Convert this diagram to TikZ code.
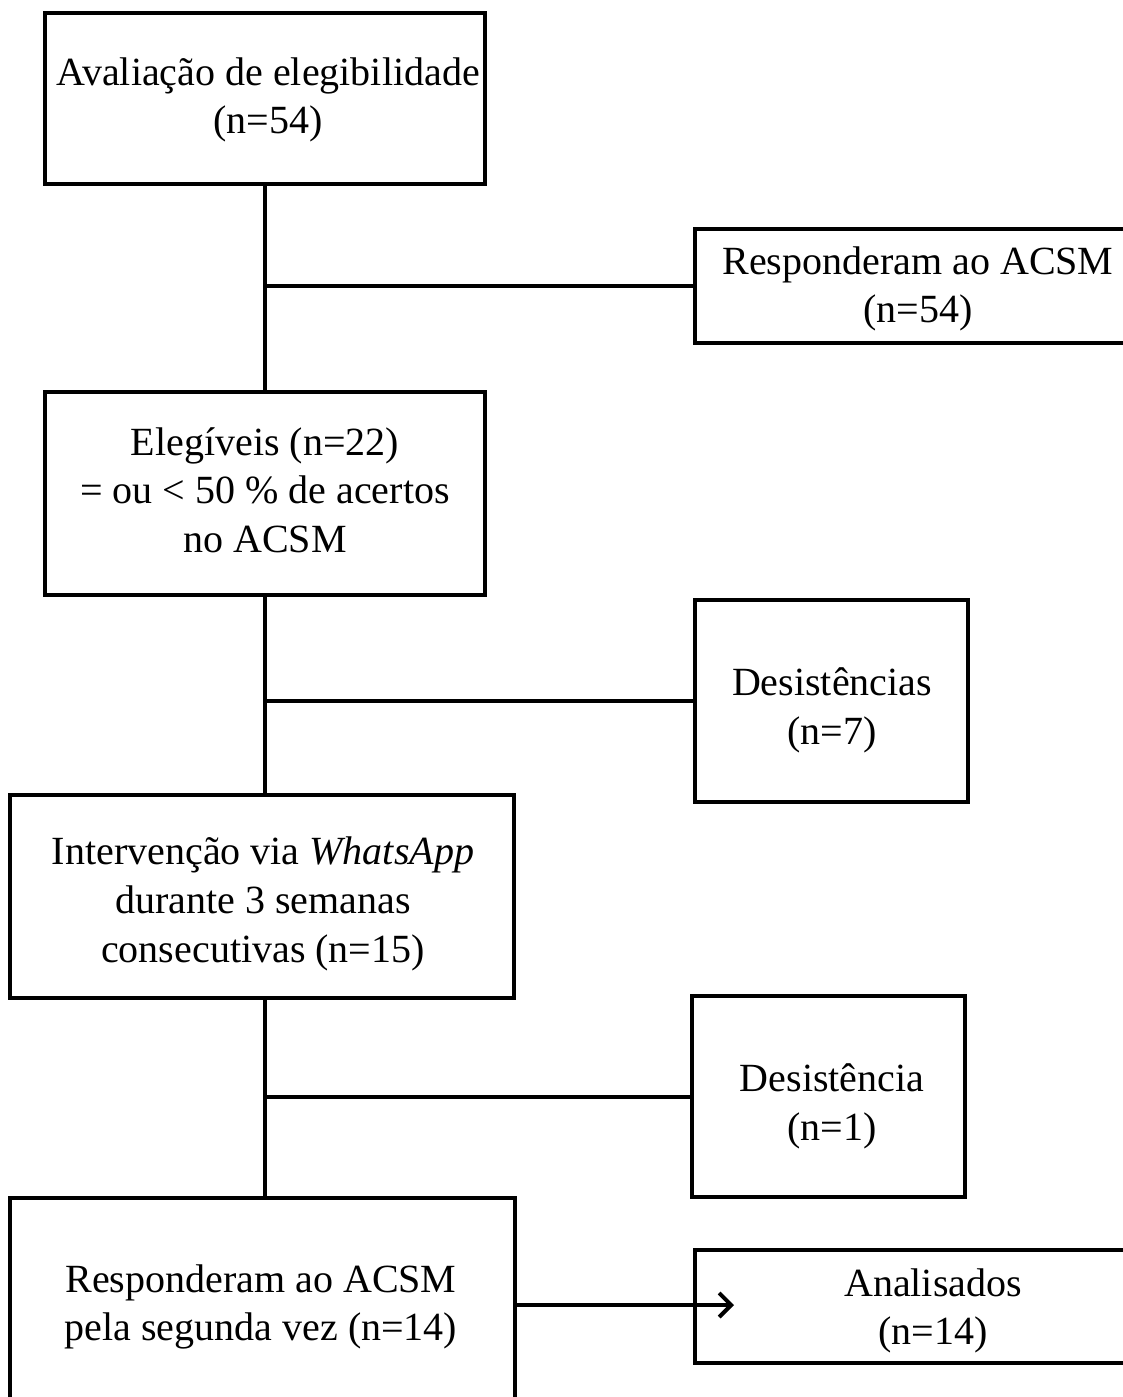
\documentclass[tikz,border=0pt]{standalone}
\usepackage{fontspec}
\setmainfont{Liberation Serif}
\usetikzlibrary{arrows.meta}

\begin{document}
\begin{tikzpicture}[x=0.75pt, y=-0.75pt,
  box/.style={rectangle, draw=black, line width=3pt, inner sep=0pt},
  txt/.style={align=center, font=\fontsize{30}{36.5}\selectfont, inner sep=0pt},
  link/.style={draw=black, line width=3pt},
  arr/.style={link, -{Straight Barb[length=9pt, width=18pt]}}
]
  \useasboundingbox (0,0) rectangle (1122,1397);
  \fill[white] (0,0) rectangle (1122,1397);

  % caixas do fluxograma
  \foreach \n/\x/\y/\w/\h in {aval/265/98.5/440/171, resp1/917.5/286/445/114,
    elig/265/493.5/440/203, desA/831.5/701/273/202,
    interv/262/896.5/504/203, desB/828.5/1096.5/273/201,
    resp2/262.5/1305/505/214, anal/917.5/1306.5/445/113}
    \node[box, minimum width=\w*0.75pt, minimum height=\h*0.75pt] (\n) at (\x,\y) {};

  % textos
  \node[txt] (aval-t) at (268,100) {Avaliação de elegibilidade\\(n=54)};
  \node[txt] (resp1-t) at (918,289) {Responderam ao ACSM\\(n=54)};
  \node[txt] (elig-t) at (265,490) {Elegíveis (n=22)\\= ou < 50 \% de acertos\\no ACSM};
  \node[txt] (desA-t) at (832,710) {Desistências\\(n=7)};
  \node[txt] (interv-t) at (263,904) {Intervenção via \textit{WhatsApp}\\durante 3 semanas\\consecutivas (n=15)};
  \node[txt] (desB-t) at (832,1106) {Desistência\\(n=1)};
  \node[txt] (resp2-t) at (261,1307) {Responderam ao ACSM\\pela segunda vez (n=14)};
  \node[txt] (anal-t) at (933,1311) {Analisados\\(n=14)};

  % ligações
  \draw[link] (aval.south) -- (elig.north);
  \draw[link] (aval.south |- resp1.west) -- (resp1.west);
  \draw[link] (elig.south) -- (elig.south |- interv.north);
  \draw[link] (elig.south |- desA.west) -- (desA.west);
  \draw[link] (elig.south |- interv.south) -- (elig.south |- resp2.north);
  \draw[link] (elig.south |- desB.west) -- (desB.west);
  \path (anal.west |- resp2.east) ++(41,0) coordinate (tip);
  \draw[arr] (resp2.east) -- (tip);
\end{tikzpicture}
\end{document}
